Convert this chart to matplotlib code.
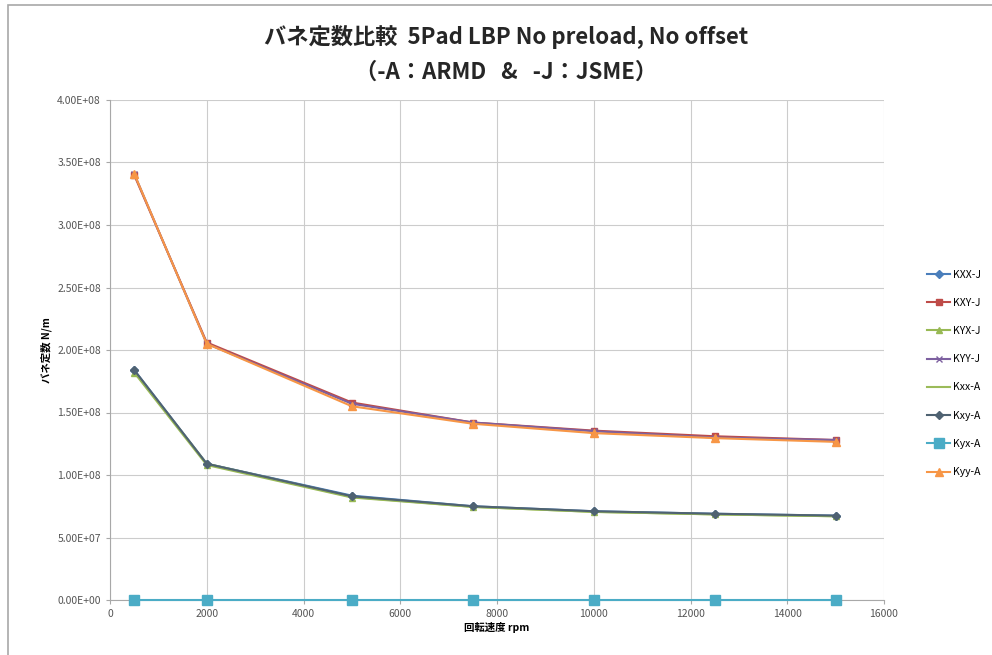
import matplotlib
matplotlib.use('Agg')
import matplotlib.pyplot as plt
from matplotlib.ticker import FuncFormatter

plt.rcParams['font.family'] = ['Noto Sans CJK JP', 'DejaVu Sans']

# 回転速度 rpm
rpm = [500, 2000, 5000, 7500, 10000, 12500, 15000]

# バネ定数 N/m (JSME)
kxx_j = [1.84e8, 1.09e8, 8.35e7, 7.50e7, 7.10e7, 6.90e7, 6.75e7]
kxy_j = [3.40e8, 2.06e8, 1.58e8, 1.42e8, 1.355e8, 1.31e8, 1.28e8]
kyx_j = [1.82e8, 1.08e8, 8.20e7, 7.45e7, 7.05e7, 6.85e7, 6.70e7]
kyy_j = [3.41e8, 2.05e8, 1.57e8, 1.42e8, 1.35e8, 1.30e8, 1.28e8]
# バネ定数 N/m (ARMD)
kxx_a = [1.83e8, 1.09e8, 8.25e7, 7.45e7, 7.05e7, 6.85e7, 6.70e7]
kxy_a = [1.84e8, 1.09e8, 8.30e7, 7.50e7, 7.10e7, 6.90e7, 6.75e7]
kyx_a = [0, 0, 0, 0, 0, 0, 0]
kyy_a = [3.41e8, 2.05e8, 1.55e8, 1.41e8, 1.335e8, 1.295e8, 1.265e8]

fig = plt.figure(figsize=(9.92, 6.55), dpi=100)
# chart frame
fig.patches.append(plt.Rectangle((0.008, -0.01), 1.1, 1.003, transform=fig.transFigure,
                                 fill=False, edgecolor='#a8a8a8', linewidth=1.2))
ax = fig.add_axes([110/992, 55/655, 774/992, 500/655])

ax.plot(rpm, kxx_j, color='#4a7ebb', marker='D', markersize=4, lw=1.5, label='KXX-J')
ax.plot(rpm, kxy_j, color='#be4b48', marker='s', markersize=5, lw=1.5, label='KXY-J')
ax.plot(rpm, kyx_j, color='#98b954', marker='^', markersize=5, lw=1.5, label='KYX-J')
ax.plot(rpm, kyy_j, color='#7d60a0', marker='x', markersize=5, lw=1.5, label='KYY-J')
ax.plot(rpm, kxx_a, color='#9bbb59', lw=1.5, label='Kxx-A')
ax.plot(rpm, kxy_a, color='#4f6272', marker='D', markersize=4, lw=1.5, label='Kxy-A')
ax.plot(rpm, kyx_a, color='#4bacc6', marker='s', markersize=7, lw=1.5, label='Kyx-A',
        clip_on=False, zorder=5)
ax.plot(rpm, kyy_a, color='#f79646', marker='^', markersize=6, lw=1.5, label='Kyy-A')

ax.set_xlim(0, 16000)
ax.set_ylim(0, 4.0e8)
ax.set_xticks(range(0, 16001, 2000))
ax.set_yticks([i * 0.5e8 for i in range(9)])
ax.yaxis.set_major_formatter(FuncFormatter(lambda v, p: '%.2E' % v))
ax.grid(True, color='#cccccc', lw=0.8)
ax.set_axisbelow(True)
for s in ['top', 'right']:
    ax.spines[s].set_visible(False)
for s in ['left', 'bottom']:
    ax.spines[s].set_color('#a8a8a8')
ax.tick_params(colors='#a8a8a8', labelcolor='#555555', labelsize=7.5, length=3)

ax.set_xlabel('回転速度 rpm', fontsize=7.5, fontweight='bold', labelpad=2)
ax.set_ylabel('バネ定数 N/m', fontsize=7.5, fontweight='bold', labelpad=4)

fig.text(0.51, 0.944, 'バネ定数比較  5Pad LBP No preload, No offset', ha='center', va='center',
         fontsize=16, fontweight='bold', color='#262626')
fig.text(0.51, 0.89, '（-A：ARMD   &   -J：JSME）', ha='center', va='center',
         fontsize=16, fontweight='bold', color='#262626')

fig.legend(loc='center left', bbox_to_anchor=(918/992, 0.43), frameon=False, fontsize=7.5,
           labelspacing=1.75, handlelength=2.2, handletextpad=0.3)

fig.savefig('out.png', dpi=100)
